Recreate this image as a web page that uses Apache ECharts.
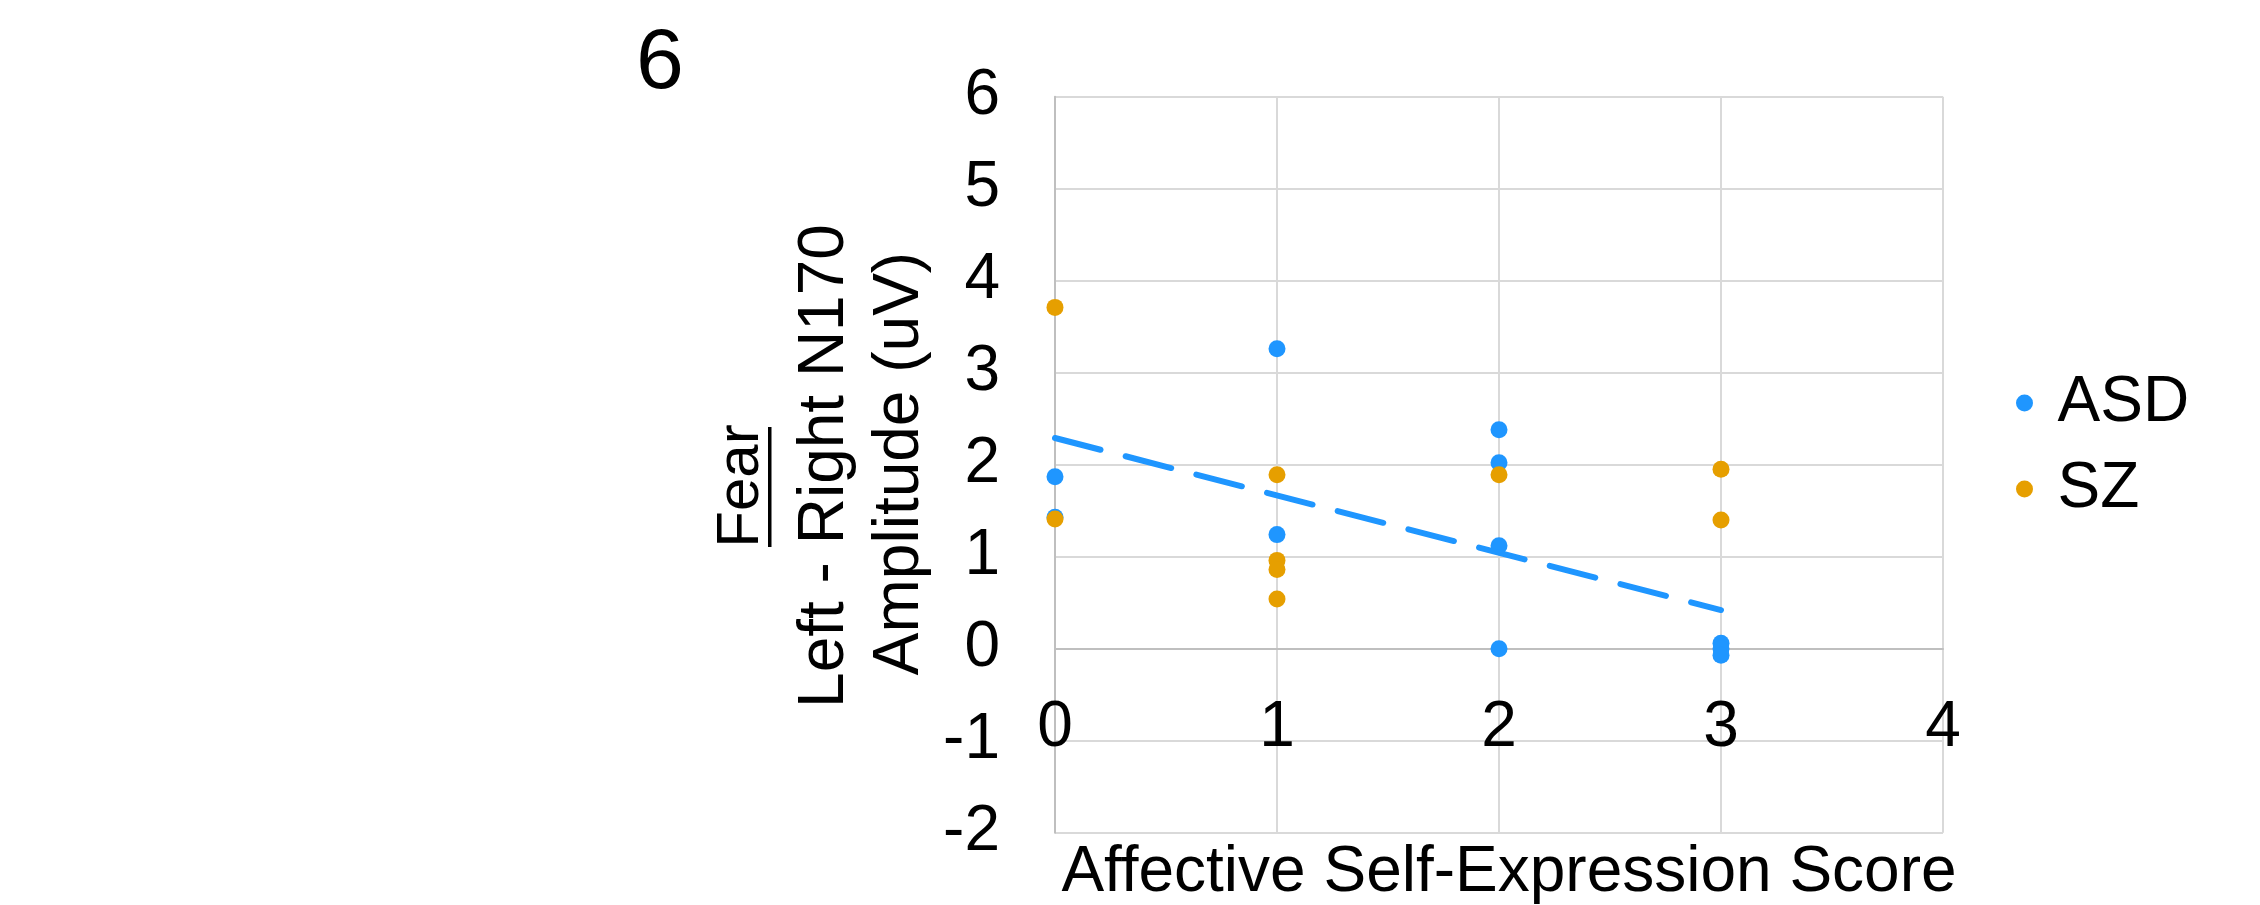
<!DOCTYPE html>
<html><head><meta charset="utf-8">
<script src="https://cdn.jsdelivr.net/npm/echarts@6/dist/echarts.min.js"></script>
<style>html,body{margin:0;padding:0;background:#fff}#c{width:2260px;height:905px}</style>
</head><body><div id="c"></div>
<script>
// ---- data ----
const xTicks = [0, 1, 2, 3, 4];
const yTicks = [-2, -1, 0, 1, 2, 3, 4, 5, 6];
const asdX = [0, 0, 1, 1, 2, 2, 2, 2, 3, 3, 3];
const asdY = [1.87, 1.43, 3.26, 1.24, 2.38, 2.02, 1.12, 0.00, 0.06, 0.00, -0.07];
const szX = [0, 0, 1, 1, 1, 1, 2, 3, 3];
const szY = [3.71, 1.41, 1.89, 0.96, 0.86, 0.54, 1.89, 1.95, 1.40];
const trendX = [0, 3];
const trendY = [2.29, 0.42];
const seriesNames = ['ASD', 'SZ'];
const xTitle = 'Affective Self-Expression Score';
const yTitleLines = ['Fear', 'Left - Right N170', 'Amplitude (uV)'];
const panelLabel = '6';

const FONT = '"Liberation Sans", Arial, Helvetica, sans-serif';
const BLUE = '#1F96FF';
const ORANGE = '#E69F00';

const GRID_TOP = 96.7, GRID_BOTTOM_PX = 832.7;
const chart = echarts.init(document.getElementById('c'), null, {renderer: 'canvas'});
const pairs = (xs, ys) => xs.map((x, i) => [x, ys[i]]);

// x axis sits on y = 0 (Excel style): offset from the bottom edge of the grid
const yMin = yTicks[0], yMax = yTicks[yTicks.length - 1];
const zeroOffset = -(GRID_BOTTOM_PX - GRID_TOP) * (0 - yMin) / (yMax - yMin);

function rotText(text, x, y, size) {
  return {
    type: 'text', x: x, y: y, rotation: Math.PI / 2,
    style: {text: text, fontSize: size, fontFamily: FONT, fill: '#000',
      align: 'center', verticalAlign: 'middle', textAlign: 'center', textVerticalAlign: 'middle'}
  };
}

chart.setOption({
  backgroundColor: '#fff',
  animation: false,
  grid: {left: 1055, right: 317, top: GRID_TOP, bottom: 905 - GRID_BOTTOM_PX, containLabel: false, outerBoundsMode: 'none'},
  xAxis: {
    type: 'value', min: xTicks[0], max: xTicks[xTicks.length - 1], interval: 1,
    offset: zeroOffset,
    axisLine: {show: true, onZero: false, lineStyle: {color: '#BFBFBF', width: 2}},
    axisTick: {show: false},
    axisLabel: {fontSize: 64, color: '#000', fontFamily: FONT, margin: 48, showMinLabel: true, showMaxLabel: true},
    splitLine: {show: true, lineStyle: {color: '#D9D9D9', width: 2}},
    name: xTitle, nameLocation: 'middle', nameGap: 193, nameMoveOverlap: false,
    nameTextStyle: {fontSize: 64, color: '#000', fontFamily: FONT, padding: [0, 0, 0, 20]}
  },
  yAxis: {
    type: 'value', min: yMin, max: yMax, interval: 1,
    axisLine: {show: true, onZero: false, lineStyle: {color: '#BFBFBF', width: 2}},
    axisTick: {show: false},
    axisLabel: {fontSize: 64, color: '#000', fontFamily: FONT, margin: 55, showMinLabel: true, showMaxLabel: true},
    splitLine: {show: true, lineStyle: {color: '#D9D9D9', width: 2}}
  },
  legend: {
    data: seriesNames, orient: 'vertical', left: 2011, top: 366,
    itemWidth: 56, itemHeight: 17, itemGap: 22, icon: 'circle',
    itemStyle: {opacity: 1},
    textStyle: {fontSize: 64, lineHeight: 64, color: '#000', fontFamily: FONT}
  },
  series: [
    {name: seriesNames[0], type: 'scatter', data: pairs(asdX, asdY), symbol: 'circle', symbolSize: 17,
      itemStyle: {color: BLUE, opacity: 1}, z: 3},
    {name: seriesNames[1], type: 'scatter', data: pairs(szX, szY), symbol: 'circle', symbolSize: 17,
      itemStyle: {color: ORANGE, opacity: 1}, z: 4},
    {name: 'ASD trend', type: 'line', data: pairs(trendX, trendY), showSymbol: false, symbol: 'none',
      silent: true, z: 5,
      lineStyle: {color: BLUE, width: 6, type: [47, 26], cap: 'round', opacity: 1}}
  ],
  graphic: [
    {type: 'text', x: 660, y: 64,
      style: {text: panelLabel, fontSize: 86, fontFamily: FONT, fill: '#000',
        align: 'center', verticalAlign: 'middle', textAlign: 'center', textVerticalAlign: 'middle'}},
    rotText(yTitleLines[0], 741.5, 486, 60),
    {type: 'rect', shape: {x: 768, y: 427, width: 3.5, height: 120}, style: {fill: '#000'}},
    rotText(yTitleLines[1], 825, 466, 64),
    rotText(yTitleLines[2], 900, 463.5, 64)
  ]
});
</script>
</body></html>
